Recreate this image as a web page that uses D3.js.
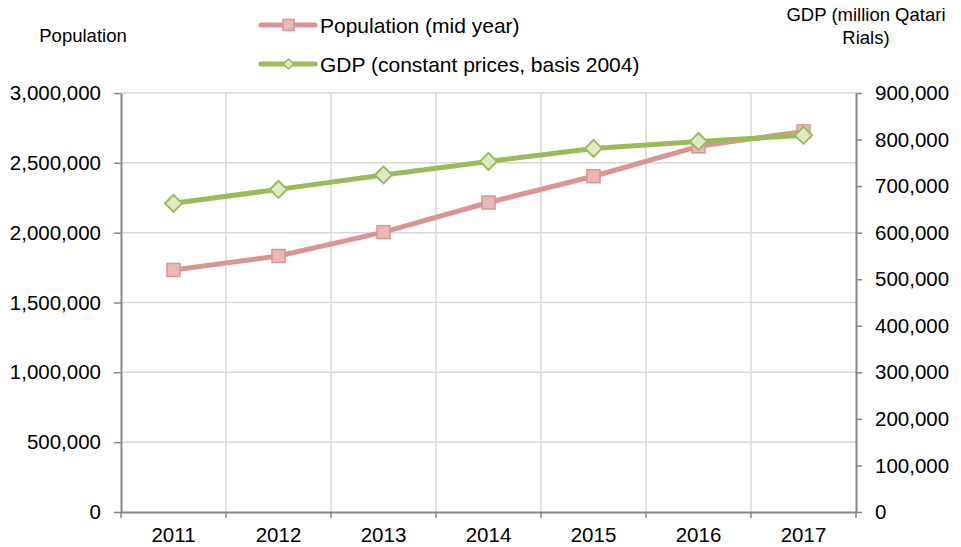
<!DOCTYPE html>
<html>
<head>
<meta charset="utf-8">
<script src="https://cdn.jsdelivr.net/npm/d3@7"></script>
<style>
  body { margin: 0; background: #fff; }
  text { font-family: "Liberation Sans", Arial, sans-serif; fill: #000; }
</style>
</head>
<body>
<div id="chart"></div>
<script>
var years = ["2011", "2012", "2013", "2014", "2015", "2016", "2017"];
var population = [1733000, 1833000, 2004000, 2216000, 2404000, 2618000, 2725000];
var gdp = [663000, 693000, 724000, 753000, 781000, 796000, 809000];
var popTicks = [0, 500000, 1000000, 1500000, 2000000, 2500000, 3000000];
var gdpTicks = [0, 100000, 200000, 300000, 400000, 500000, 600000, 700000, 800000, 900000];

var width = 961,
  height = 547,
  svg = d3
    .select("#chart")
    .append("svg")
    .attr("width", width)
    .attr("height", height);

var margin = { top: 93, right: 105, bottom: 35, left: 121 },
  iwidth = width - margin.left - margin.right,
  iheight = height - margin.top - margin.bottom;

var g = svg
  .append("g")
  .attr("transform", `translate(${margin.left}, ${margin.top})`);

var x = d3.scaleBand().domain(years).range([0, iwidth]);
var yL = d3.scaleLinear().domain([0, 3000000]).range([iheight, 0]);
var yR = d3.scaleLinear().domain([0, 900000]).range([iheight, 0]);
var fmt = d3.format(",");

// gridlines
g.selectAll(".hgrid")
  .data(popTicks.slice(1))
  .enter()
  .append("line")
  .attr("x1", 0)
  .attr("x2", iwidth)
  .attr("y1", d => yL(d))
  .attr("y2", d => yL(d))
  .attr("stroke", "#d9d9d9")
  .attr("stroke-width", 1.5);

g.selectAll(".vgrid")
  .data(years.slice(1))
  .enter()
  .append("line")
  .attr("x1", d => x(d))
  .attr("x2", d => x(d))
  .attr("y1", 0)
  .attr("y2", iheight)
  .attr("stroke", "#d9d9d9")
  .attr("stroke-width", 1.5);

// axes
function styleAxis(sel) {
  sel.select(".domain").attr("stroke", "#868686").attr("stroke-width", 2);
  sel.selectAll(".tick line").attr("stroke", "#868686").attr("stroke-width", 1.5);
  sel.selectAll("text").style("font-size", "20.5px").style("font-family", "Liberation Sans, Arial, sans-serif");
}

g.append("g")
  .call(d3.axisLeft(yL).tickValues(popTicks).tickFormat(fmt).tickSize(7).tickSizeOuter(0).tickPadding(13))
  .call(styleAxis);

g.append("g")
  .attr("transform", `translate(${iwidth},0)`)
  .call(d3.axisRight(yR).tickValues(gdpTicks).tickFormat(fmt).tickSize(6).tickSizeOuter(0).tickPadding(13))
  .call(styleAxis);

g.append("g")
  .attr("transform", `translate(0,${iheight})`)
  .call(d3.axisBottom(x).tickSize(0).tickPadding(15))
  .call(styleAxis);

g.selectAll(".xtick")
  .data(years.concat(["end"]))
  .enter()
  .append("line")
  .attr("x1", (d, i) => i * x.bandwidth())
  .attr("x2", (d, i) => i * x.bandwidth())
  .attr("y1", iheight)
  .attr("y2", iheight + 6)
  .attr("stroke", "#868686")
  .attr("stroke-width", 1.5);

// series
var popColor = "#d99594", popFill = "#e6b9b8";
var gdpColor = "#9bbb59", gdpFill = "#dfe9c6";
var cx = d => x(d) + x.bandwidth() / 2;

var popLine = d3.line().x((d, i) => cx(years[i])).y(d => yL(d));
var gdpLine = d3.line().x((d, i) => cx(years[i])).y(d => yR(d));

g.append("path")
  .datum(population)
  .attr("d", popLine)
  .attr("fill", "none")
  .attr("stroke", popColor)
  .attr("stroke-width", 5)
  .attr("stroke-linejoin", "round");

g.selectAll(".popm")
  .data(population)
  .enter()
  .append("rect")
  .attr("x", (d, i) => cx(years[i]) - 6.5)
  .attr("y", d => yL(d) - 6.5)
  .attr("width", 13)
  .attr("height", 13)
  .attr("fill", popFill)
  .attr("stroke", popColor)
  .attr("stroke-width", 1.5);

g.append("path")
  .datum(gdp)
  .attr("d", gdpLine)
  .attr("fill", "none")
  .attr("stroke", gdpColor)
  .attr("stroke-width", 5)
  .attr("stroke-linejoin", "round");

var diamond = "M0,-8.5L8.5,0L0,8.5L-8.5,0Z";
g.selectAll(".gdpm")
  .data(gdp)
  .enter()
  .append("path")
  .attr("d", diamond)
  .attr("transform", (d, i) => `translate(${cx(years[i])},${yR(d)})`)
  .attr("fill", gdpFill)
  .attr("stroke", gdpColor)
  .attr("stroke-width", 2);

// axis titles
svg.append("text")
  .attr("x", 83)
  .attr("y", 42)
  .attr("text-anchor", "middle")
  .style("font-size", "18.5px")
  .text("Population");

svg.append("text")
  .attr("x", 866)
  .attr("y", 21)
  .attr("text-anchor", "middle")
  .style("font-size", "18.5px")
  .text("GDP (million Qatari");

svg.append("text")
  .attr("x", 866)
  .attr("y", 44)
  .attr("text-anchor", "middle")
  .style("font-size", "18.5px")
  .text("Rials)");

// legend
var legend = [
  { name: "Population (mid year)", color: popColor, fill: popFill, shape: "square", y: 25 },
  { name: "GDP (constant prices, basis 2004)", color: gdpColor, fill: gdpFill, shape: "diamond", y: 64 }
];

var lg = svg.selectAll(".leg")
  .data(legend)
  .enter()
  .append("g")
  .attr("transform", d => `translate(260,${d.y})`);

lg.append("line")
  .attr("x1", 1)
  .attr("x2", 55)
  .attr("stroke", d => d.color)
  .attr("stroke-width", 5)
  .attr("stroke-linecap", "round");

lg.filter(d => d.shape == "square")
  .append("rect")
  .attr("x", 23)
  .attr("y", -5.5)
  .attr("width", 11)
  .attr("height", 11)
  .attr("fill", d => d.fill)
  .attr("stroke", d => d.color)
  .attr("stroke-width", 1.5);

lg.filter(d => d.shape == "diamond")
  .append("path")
  .attr("d", "M0,-5L5,0L0,5L-5,0Z")
  .attr("transform", "translate(28.5,0)")
  .attr("fill", d => d.fill)
  .attr("stroke", d => d.color)
  .attr("stroke-width", 1.5);

lg.append("text")
  .attr("x", 60)
  .attr("y", 8)
  .style("font-size", "21px")
  .text(d => d.name);
</script>
</body>
</html>
